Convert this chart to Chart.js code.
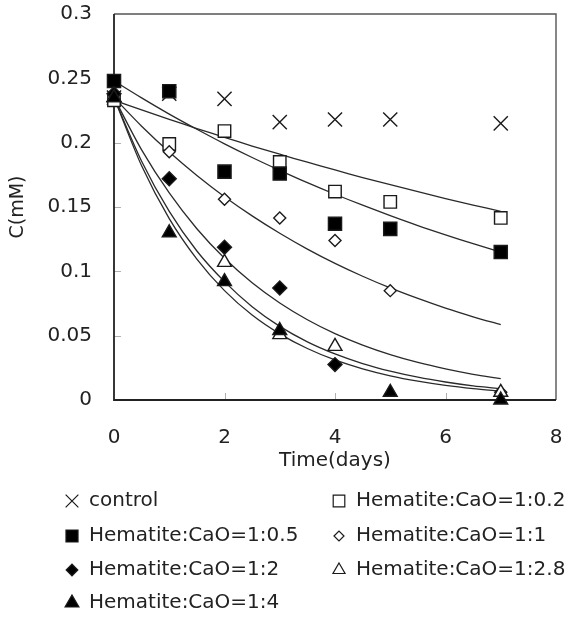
<!DOCTYPE html>
<html>
<head>
<meta charset="utf-8">
<script src="https://cdn.jsdelivr.net/npm/chart.js@4.4.1/dist/chart.umd.min.js"></script>
<style>
  html, body { margin: 0; padding: 0; background: #fff; }
  #wrap { width: 579px; height: 617px; }
</style>
</head>
<body>
<div id="wrap"><canvas id="chart" width="579" height="617"></canvas></div>
<script>
// measured points (days)
const days = [0, 1, 2, 3, 4, 5, 7];
const control = [0.235, 0.238, 0.234, 0.216, 0.218, 0.218, 0.215];
const ratio02 = [0.233, 0.199, 0.209, 0.185, 0.162, 0.154, 0.1415];
const ratio05 = [0.248, 0.240, 0.1775, 0.176, 0.137, 0.133, 0.115];
const ratio1 = [0.237, 0.193, 0.156, 0.1415, 0.124, 0.085, 0.006];
const ratio2 = [0.238, 0.172, 0.1187, 0.087, 0.0275, null, null];
const ratio28 = [0.235, null, 0.107, 0.0508, 0.0417, null, 0.006];
const ratio4 = [0.235, 0.130, 0.092, 0.054, null, 0.006, 0.0];

// fitted curves, every half day
const fitDays = [0, 0.5, 1, 1.5, 2, 2.5, 3, 3.5, 4, 4.5, 5, 5.5, 6, 6.5, 7];
const fitA = [0.233, 0.2254, 0.2181, 0.2110, 0.2041, 0.1974, 0.1910, 0.1848, 0.1788, 0.1729, 0.1673, 0.1619, 0.1566, 0.1515, 0.1466];
const fitB = [0.248, 0.2348, 0.2222, 0.2104, 0.1991, 0.1885, 0.1785, 0.1689, 0.1599, 0.1514, 0.1433, 0.1356, 0.1284, 0.1215, 0.1150];
const fitC = [0.235, 0.2128, 0.1927, 0.1745, 0.1580, 0.1431, 0.1296, 0.1173, 0.1062, 0.0962, 0.0871, 0.0789, 0.0714, 0.0647, 0.0585];
const fitD = [0.235, 0.1944, 0.1609, 0.1331, 0.1101, 0.0911, 0.0754, 0.0624, 0.0516, 0.0427, 0.0353, 0.0292, 0.0242, 0.0200, 0.0166];
const fitE = [0.235, 0.1856, 0.1466, 0.1158, 0.0920, 0.0725, 0.0572, 0.0452, 0.0358, 0.0283, 0.0224, 0.0177, 0.0140, 0.0110, 0.0088];
const fitF = [0.235, 0.1820, 0.1410, 0.1095, 0.0850, 0.0660, 0.0514, 0.0400, 0.0311, 0.0242, 0.0188, 0.0146, 0.0113, 0.0088, 0.0069];

const xTicks = [0, 2, 4, 6, 8];
const yTicks = [0, 0.05, 0.1, 0.15, 0.2, 0.25, 0.3];

const FONT = "'DejaVu Sans', sans-serif";
const INK = "#1a1a1a";

function pts(xs, ys) {
  return xs.map((x, i) => ({ x: x, y: ys[i] })).filter(p => p.y !== null);
}

function fitLine(data) {
  return {
    data: pts(fitDays, data),
    showLine: true,
    borderColor: "#2a2a2a",
    borderWidth: 1.3,
    pointRadius: 0,
    tension: 0.3,
    fill: false,
    order: 20,
    legend: false
  };
}

function marker(label, data, style, radius, filled, order, legendRadius) {
  return {
    label: label,
    data: pts(days, data),
    showLine: false,
    pointStyle: style,
    pointRadius: radius,
    pointBorderWidth: 1.4,
    pointBorderColor: INK,
    pointBackgroundColor: filled ? "#000" : "#fff",
    borderColor: INK,
    backgroundColor: filled ? "#000" : "#fff",
    clip: false,
    order: order,
    legend: true,
    legendRadius: legendRadius
  };
}

const datasets = [
  fitLine(fitA), fitLine(fitB), fitLine(fitC),
  fitLine(fitD), fitLine(fitE), fitLine(fitF),
  marker("control", control, "crossRot", 10, false, 7, 9),
  marker("Hematite:CaO=1:0.2", ratio02, "rect", 8.8, false, 6, 8.2),
  marker("Hematite:CaO=1:0.5", ratio05, "rect", 9.3, true, 5, 8.5),
  marker("Hematite:CaO=1:1", ratio1, "rectRot", 6, false, 4, 5),
  marker("Hematite:CaO=1:2", ratio2, "rectRot", 7, true, 3, 5.8),
  marker("Hematite:CaO=1:2.8", ratio28, "triangle", 8, false, 2, 7),
  marker("Hematite:CaO=1:4", ratio4, "triangle", 8, true, 1, 8)
];

// frame and inward tick marks
const framePlugin = {
  id: "frame",
  beforeDatasetsDraw(chart) {
    const { ctx, chartArea: a, scales } = chart;
    ctx.save();
    ctx.strokeStyle = "#b0b0b0";
    ctx.lineWidth = 1;
    yTicks.slice(1, -1).forEach(v => {
      const y = Math.round(scales.y.getPixelForValue(v)) + 0.5;
      ctx.beginPath(); ctx.moveTo(a.left, y); ctx.lineTo(a.left + 7, y); ctx.stroke();
    });
    xTicks.slice(1, -1).forEach(v => {
      const x = Math.round(scales.x.getPixelForValue(v)) + 0.5;
      ctx.beginPath(); ctx.moveTo(x, a.bottom); ctx.lineTo(x, a.bottom - 7); ctx.stroke();
    });
    ctx.strokeStyle = "#555";
    ctx.lineWidth = 1.4;
    ctx.beginPath();
    ctx.moveTo(a.left, a.top); ctx.lineTo(a.right, a.top); ctx.lineTo(a.right, a.bottom);
    ctx.stroke();
    ctx.strokeStyle = "#222";
    ctx.lineWidth = 1.8;
    ctx.beginPath();
    ctx.moveTo(a.left, a.top); ctx.lineTo(a.left, a.bottom); ctx.lineTo(a.right, a.bottom);
    ctx.stroke();
    ctx.restore();
  }
};

// two-column legend below the plot
const legendPlugin = {
  id: "gridLegend",
  afterDraw(chart) {
    const { ctx } = chart;
    const items = chart.data.datasets.filter(d => d.legend);
    const colX = [72, 339];
    const rowY = [501, 536, 570, 603];
    ctx.save();
    items.forEach((d, i) => {
      const cx = colX[i % 2];
      const cy = rowY[Math.floor(i / 2)];
      ctx.fillStyle = d.pointBackgroundColor;
      ctx.strokeStyle = INK;
      ctx.lineWidth = 1.2;
      Chart.helpers.drawPoint(ctx, { pointStyle: d.pointStyle, radius: d.legendRadius, rotation: 0, borderWidth: 1.2 }, cx, cy);
      ctx.fillStyle = "#222";
      ctx.font = "20px " + FONT;
      ctx.textBaseline = "middle";
      ctx.textAlign = "left";
      ctx.fillText(d.label, cx + 17, cy);
    });
    ctx.restore();
  }
};

new Chart(document.getElementById("chart"), {
  type: "scatter",
  data: { datasets },
  options: {
    responsive: false,
    animation: false,
    layout: { padding: { left: 0, right: 23, top: 14, bottom: 0 } },
    plugins: {
      legend: { display: false },
      tooltip: { enabled: false }
    },
    scales: {
      x: {
        type: "linear",
        min: 0,
        max: 8,
        afterFit: s => { s.height = 217; s.paddingLeft = 0; s.paddingRight = 0; },
        afterBuildTicks: s => { s.ticks = xTicks.map(v => ({ value: v })); },
        grid: { display: false, drawTicks: false },
        border: { display: false },
        ticks: { color: "#222", padding: 26, font: { family: FONT, size: 20 } },
        title: {
          display: true,
          text: "Time(days)",
          color: "#222",
          font: { family: FONT, size: 20 },
          padding: { top: 0, bottom: 144 }
        }
      },
      y: {
        type: "linear",
        min: 0,
        max: 0.3,
        afterFit: s => { s.width = 114; s.paddingTop = 0; s.paddingBottom = 0; },
        afterBuildTicks: s => { s.ticks = yTicks.map(v => ({ value: v })); },
        grid: { display: false, drawTicks: false },
        border: { display: false },
        ticks: {
          color: "#222",
          padding: 22,
          font: { family: FONT, size: 20 },
          callback: v => String(Number(v.toFixed(2)))
        },
        title: {
          display: true,
          text: "C(mM)",
          color: "#222",
          font: { family: FONT, size: 19 },
          padding: { top: 7, bottom: 0 }
        }
      }
    }
  },
  plugins: [framePlugin, legendPlugin]
});
</script>
</body>
</html>
